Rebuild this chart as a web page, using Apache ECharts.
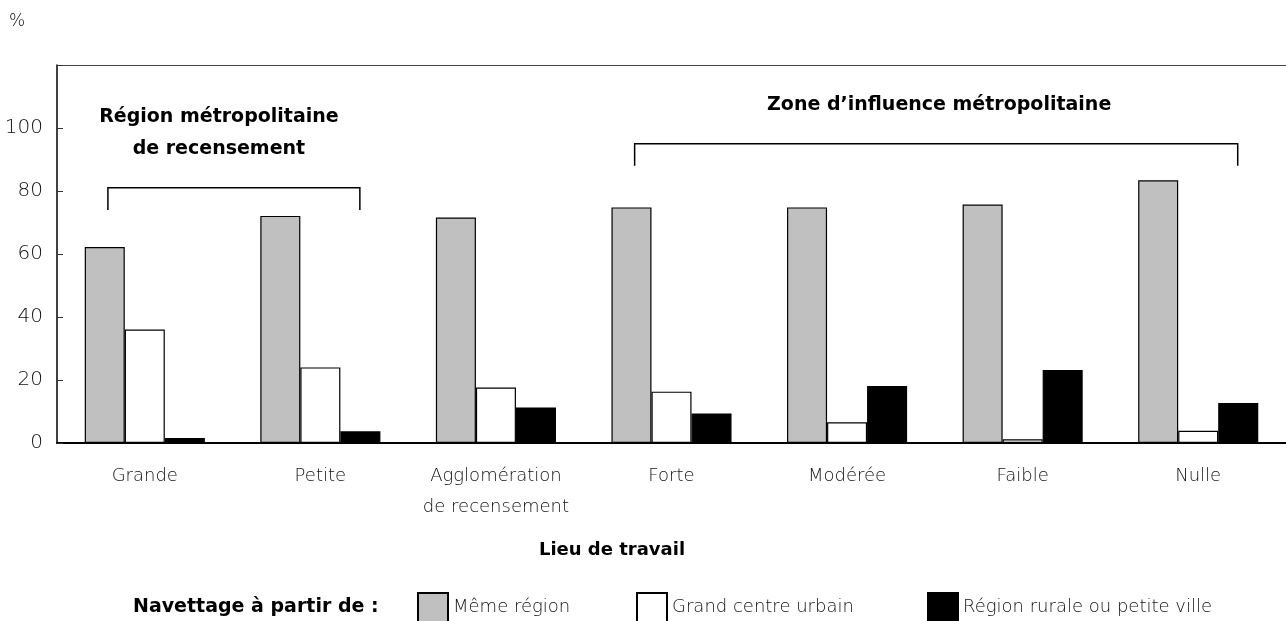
<!DOCTYPE html>
<html>
<head>
<meta charset="utf-8">
<script src="https://cdn.jsdelivr.net/npm/echarts@6/dist/echarts.min.js"></script>
<style>
  html, body { margin: 0; padding: 0; background: #fff; }
  #chart { width: 1286px; height: 621px; }
</style>
</head>
<body>
<div id="chart"></div>
<script>
// catégories (lieu de travail)
const categories = ['Grande', 'Petite', 'Agglomération\nde recensement', 'Forte', 'Modérée', 'Faible', 'Nulle']
// navettage à partir de...
const memeRegion = [62.2, 72.1, 71.6, 74.8, 74.8, 75.7, 83.4]
const grandCentre = [36, 24, 17.6, 16.3, 6.6, 1.2, 3.9]
const regionRurale = [1.6, 3.7, 11.3, 9.4, 18.1, 23.2, 12.7]
const seriesNames = ['Même région', 'Grand centre urbain', 'Région rurale ou petite ville']
const yTicks = [0, 20, 40, 60, 80, 100]
// regroupements au-dessus des barres (indices de catégories)
const groupLabels = ['Région métropolitaine\nde recensement', 'Zone d\u2019influence métropolitaine']
const groupSpans = [[0, 1], [3, 6]]

const font = '"DejaVu Sans", sans-serif'
const boldFont = '"DejaVu Sans", sans-serif'
const textColor = '#111'
const bracketLevel = [81, 95]

const chart = echarts.init(document.getElementById('chart'))

const barStyle = (color) => ({
  color: color,
  borderColor: '#000',
  borderWidth: 1.2,
})

const option = {
  animation: false,
  textStyle: { fontFamily: font },
  grid: { left: 57, right: 0, top: 65, bottom: 178, containLabel: false },
  legend: seriesNames.map((n, i) => ({
    data: [n],
    left: [417, 636, 927][i],
    top: 592,
    padding: 0,
    itemWidth: 30,
    itemHeight: 29,
    icon: 'rect',
    selectedMode: false,
    textStyle: { fontSize: 18, fontWeight: 200, color: textColor, fontFamily: font },
  })),
  xAxis: [
    {
      type: 'category',
      data: categories,
      axisLine: { lineStyle: { color: '#000', width: 2 } },
      axisTick: { show: false },
      axisLabel: {
        interval: 0,
        fontSize: 18,
        fontWeight: 200,
        lineHeight: 31,
        margin: 18,
        color: textColor,
        fontFamily: font,
      },
    },
    {
      // bordure du haut du cadre
      type: 'category',
      position: 'top',
      data: categories,
      axisLine: { show: true, lineStyle: { color: '#444', width: 1.2 } },
      axisTick: { show: false },
      axisLabel: { show: false },
    },
  ],
  yAxis: {
    type: 'value',
    min: 0,
    max: 120,
    interval: 20,
    splitLine: { show: false },
    axisLine: { show: true, lineStyle: { color: '#000', width: 1.5 } },
    axisTick: { show: true, inside: true, length: 6, lineStyle: { color: '#333' } },
    axisLabel: {
      fontSize: 20,
      fontWeight: 200,
      color: textColor,
      margin: 14,
      fontFamily: font,
      formatter: (v) => (yTicks.indexOf(v) >= 0 ? String(v) : ''),
    },
  },
  series: [
    {
      name: seriesNames[0],
      type: 'bar',
      data: memeRegion,
      barGap: '0%',
      barCategoryGap: '31.6%',
      itemStyle: barStyle('#c0c0c0'),
    },
    {
      name: seriesNames[1],
      type: 'bar',
      data: grandCentre,
      itemStyle: barStyle('#ffffff'),
    },
    {
      name: seriesNames[2],
      type: 'bar',
      data: regionRurale,
      itemStyle: barStyle('#000000'),
    },
    {
      // accolades + titres des regroupements
      type: 'custom',
      silent: true,
      data: groupSpans.map((s, i) => [s[0], s[1], bracketLevel[i]]),
      encode: { x: [0, 1], y: 2 },
      renderItem: function (params, api) {
        const s = api.value(0)
        const e = api.value(1)
        const lvl = api.value(2)
        const band = api.size([1, 0])[0]
        const a = api.coord([s, lvl])
        const b = api.coord([e, lvl])
        const bottom = api.coord([s, lvl - 7])[1]
        const x1 = a[0] - band * 0.21
        const x2 = b[0] + band * 0.225
        const y = a[1]
        return {
          type: 'group',
          children: [
            {
              type: 'polyline',
              shape: { points: [[x1, bottom], [x1, y], [x2, y], [x2, bottom]] },
              style: { stroke: '#000', lineWidth: 1.5, fill: null },
            },
            {
              type: 'text',
              x: (x1 + x2) / 2 + (params.dataIndex === 0 ? -15 : 3),
              y: y - 23,
              style: {
                text: groupLabels[params.dataIndex],
                align: 'center',
                verticalAlign: 'bottom',
                fontSize: 19,
                lineHeight: 32,
                fontWeight: 'bold',
                fontFamily: boldFont,
                fill: '#000',
              },
            },
          ],
        }
      },
    },
  ],
  graphic: [
    {
      type: 'text',
      left: 9,
      top: 13,
      style: { text: '%', fontSize: 17, fontWeight: 200, fill: textColor, fontFamily: font },
    },
    {
      type: 'text',
      x: 612,
      y: 550,
      style: {
        text: 'Lieu de travail',
        align: 'center',
        verticalAlign: 'middle',
        fontSize: 18,
        fontWeight: 'bold',
        fill: '#000',
        fontFamily: boldFont,
      },
    },
    {
      type: 'text',
      x: 133,
      y: 607,
      style: {
        text: 'Navettage à partir de :',
        align: 'left',
        verticalAlign: 'middle',
        fontSize: 19,
        fontWeight: 'bold',
        fill: '#000',
        fontFamily: boldFont,
      },
    },
  ],
}

chart.setOption(option)
</script>
</body>
</html>
